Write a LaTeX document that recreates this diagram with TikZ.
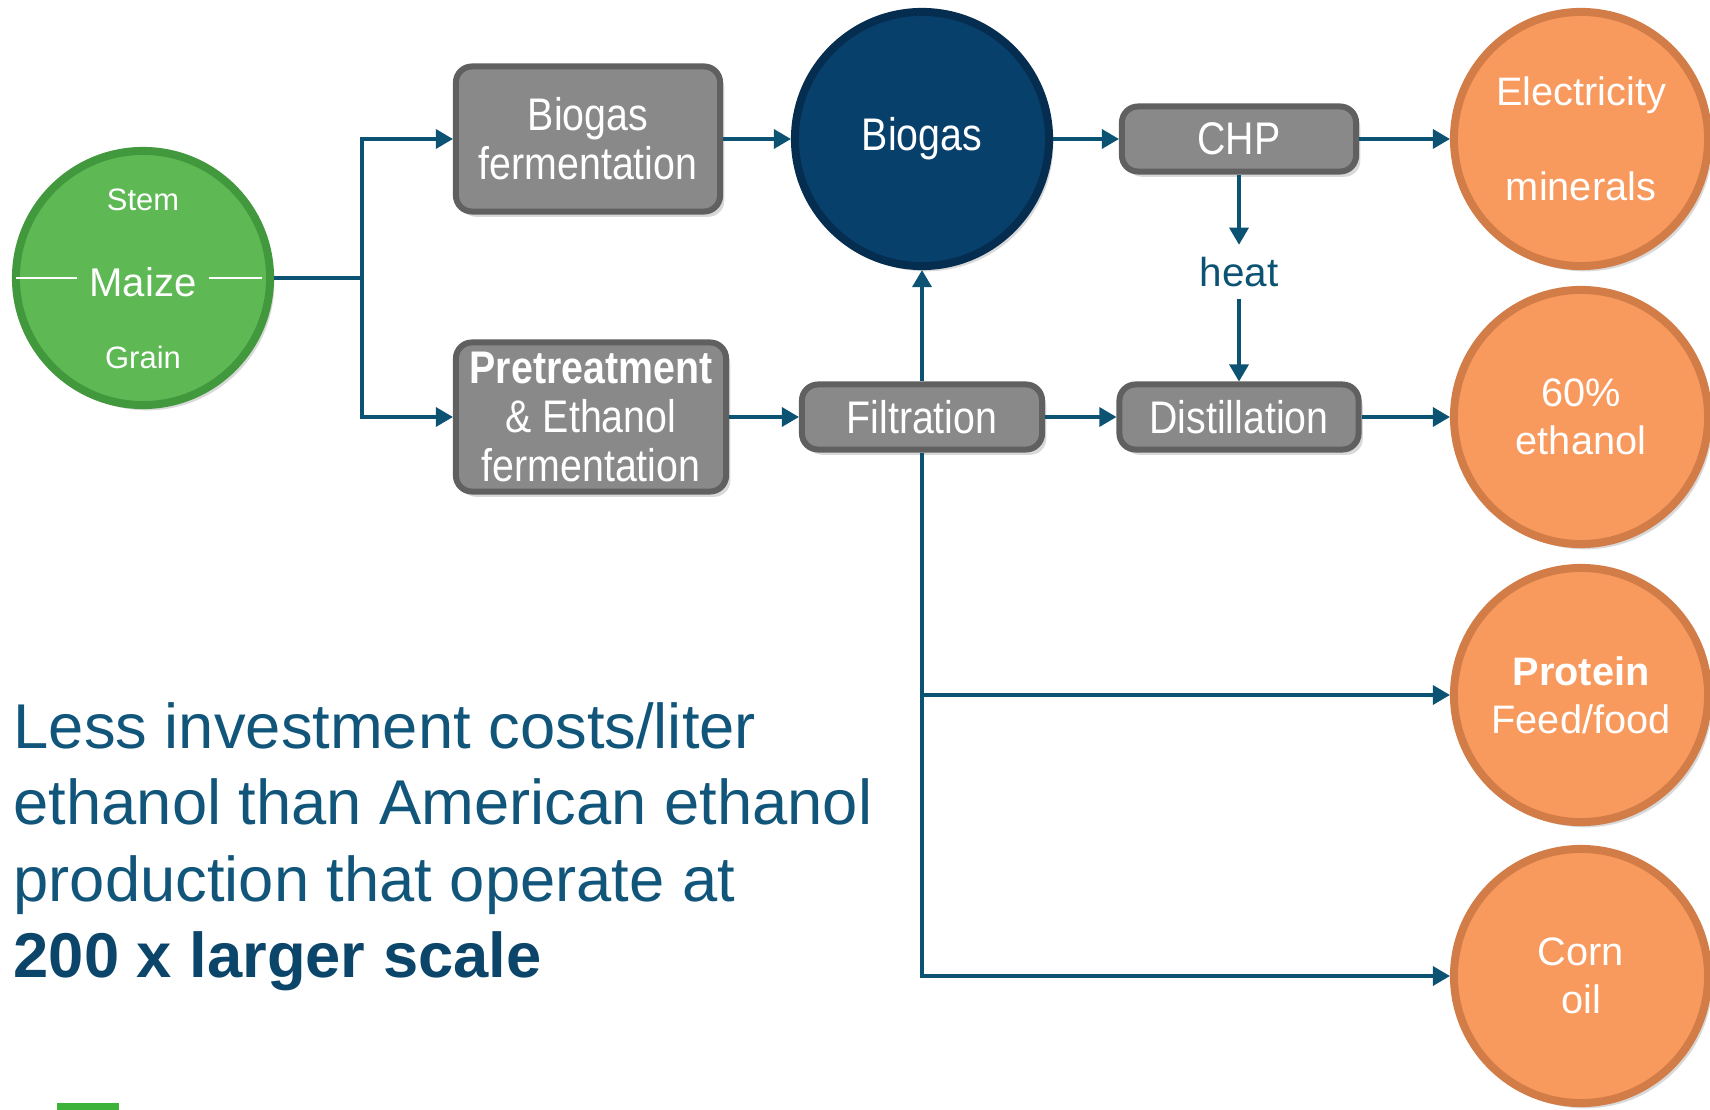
\documentclass[tikz,border=0pt]{standalone}
\usepackage{fontspec}
\setmainfont{Liberation Sans}
\newfontfamily\boxfont[FakeStretch=0.86]{Liberation Sans}
\usetikzlibrary{arrows.meta,shadows,calc}
\definecolor{flowblue}{RGB}{12,82,115}
\definecolor{txtblue}{RGB}{17,86,122}
\definecolor{darkblue}{RGB}{11,70,106}
\definecolor{maizegreen}{RGB}{94,185,84}
\definecolor{maizerim}{RGB}{66,152,60}
\definecolor{gasblue}{RGB}{8,64,108}
\definecolor{gasrim}{RGB}{5,45,80}
\definecolor{prodorange}{RGB}{248,154,94}
\definecolor{prodrim}{RGB}{210,124,72}
\definecolor{boxgray}{RGB}{137,137,137}
\definecolor{boxrim}{RGB}{96,96,96}
\definecolor{bargreen}{RGB}{61,179,58}

\begin{document}
\begin{tikzpicture}[x=0.01cm,y=-0.01cm,
  flow/.style={draw=flowblue,line width=0.33mm,-{Triangle[length=1.7mm,width=1.9mm]}},
  ball/.style={circle,minimum size=2.54cm,line width=0.8mm,text=white,align=center,
    drop shadow={opacity=0.3,shadow xshift=1.2pt,shadow yshift=-1.5pt}},
  prod/.style={ball,fill=prodorange,draw=prodrim,font=\fontsize{11.3}{13.6}\selectfont},
  proc/.style={draw=boxrim,fill=boxgray,line width=0.6mm,rounded corners=1.6mm,
    text=white,align=center,inner sep=0pt,font=\boxfont\fontsize{13}{14}\selectfont,
    drop shadow={opacity=0.3,shadow xshift=1.2pt,shadow yshift=-1.5pt}},
  maizetxt/.style={text=white,font=\fontsize{8.8}{10}\selectfont}]
\useasboundingbox (0,0) rectangle (1710,1110);

\node[ball,fill=maizegreen,draw=maizerim] (maize) at (143,278) {};
\node[maizetxt,font=\fontsize{11.4}{13}\selectfont] (mz) at (143,282) {Maize};
\node[maizetxt] (stem) at (143,200) {Stem};
\node[maizetxt] (grain) at (143,357) {Grain};
\draw[white,line width=0.15mm] ($(maize.west)+(4,0)$) -- (mz.west |- maize.west)
  (mz.east |- maize.east) -- ($(maize.east)+(-12,0)$);

\node[proc,minimum width=2.64cm,minimum height=1.45cm] (bferm) at (588,139) {Biogas\\fermentation};
\node[proc,minimum width=2.70cm,minimum height=1.49cm] (pretr) at (591,417) {\textbf{Pretreatment}\\\& Ethanol\\fermentation};
\node[ball,fill=gasblue,draw=gasrim,font=\boxfont\fontsize{13}{14}\selectfont] (biogas) at (922,139) {Biogas};
\node[proc,minimum width=2.40cm,minimum height=0.65cm] (filt) at (922,417) {Filtration};
\node[proc,minimum width=2.34cm,minimum height=0.65cm] (chp) at (1239,139) {CHP};
\node[proc,minimum width=2.39cm,minimum height=0.65cm] (dist) at (1239,417) {Distillation};
\node[text=flowblue,font=\fontsize{11.5}{13}\selectfont] (heat) at (1239,272) {heat};

\foreach \n/\y/\t in {elec/139/{Electricity\\[13.5pt]minerals},eth/417/{60\%\\ethanol},
    prot/695/{\textbf{Protein}\\Feed/food},corn/976/{Corn\\oil}}
  \node[prod] (\n) at (1581,\y) {\t};

\coordinate (fork) at (362,278);
\draw[flow] (maize.east) -- (fork) |- (bferm.west);
\draw[flow] (fork) |- (pretr.west);
\draw[flow] (bferm.east) -- (biogas.west);
\draw[flow] (biogas.east) -- (chp.west);
\draw[flow] (chp.east) -- (elec.west);
\draw[flow] (chp.south) -- (heat.north);
\draw[flow] (heat.south) -- (dist.north);
\draw[flow] (pretr.east) -- (filt.west);
\draw[flow] (filt.east) -- (dist.west);
\draw[flow] (dist.east) -- (eth.west);
\draw[flow] (filt.north) -- (biogas.south);
\draw[flow] (filt.south) |- (prot.west);
\draw[flow] (filt.south) |- (corn.west);

\node[anchor=north west,inner sep=0pt,align=left,text=txtblue,font=\fontsize{18}{21.7}\selectfont] (note) at (13,702)
  {Less investment costs/liter\\ethanol than American ethanol\\production that operate at\\\textbf{\color{darkblue}200 x larger scale}};

\fill[bargreen] (57,1103) rectangle (119,1110);
\end{tikzpicture}
\end{document}
